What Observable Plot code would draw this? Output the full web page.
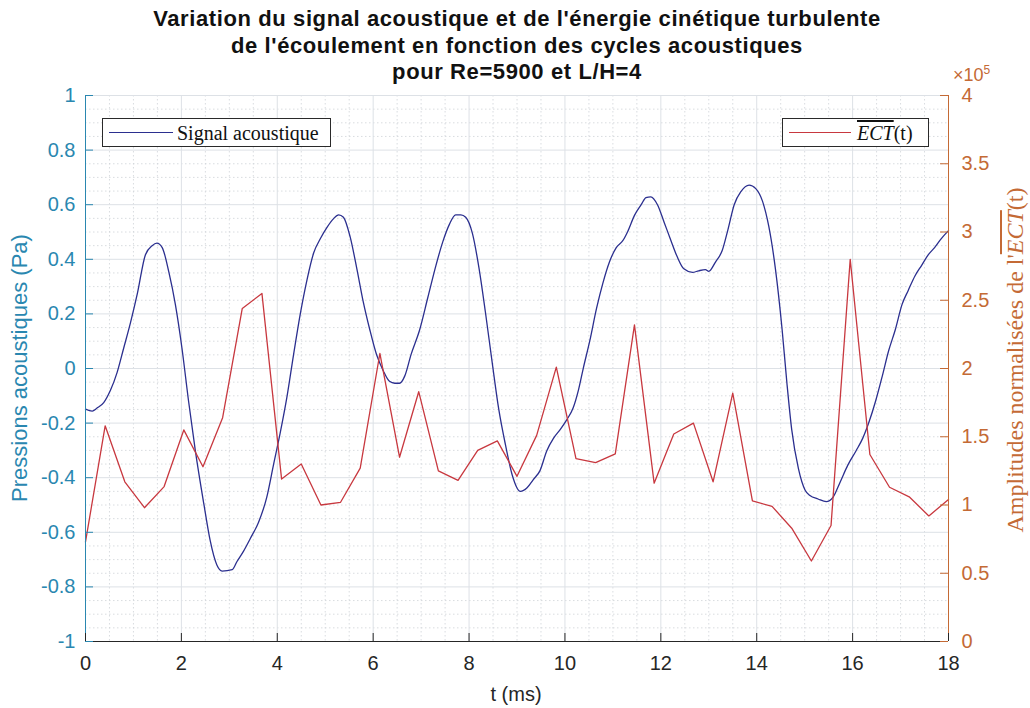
<!DOCTYPE html>
<html><head><meta charset="utf-8">
<script src="https://cdn.jsdelivr.net/npm/d3@7"></script>
<script src="https://cdn.jsdelivr.net/npm/@observablehq/plot@0.6"></script>
<style>
body{margin:0;background:#fff;}
#wrap{position:relative;width:1030px;height:708px;overflow:hidden;font-family:"Liberation Sans",Arial,sans-serif;background:#fff;}
#title{height:85px;text-align:center;font-weight:bold;font-size:22px;letter-spacing:0.6px;line-height:26.5px;padding-top:6px;padding-left:4px;box-sizing:border-box;color:#111;}
.abs{position:absolute;white-space:nowrap;}
.legend{position:absolute;border:1px solid #2a2a2a;background:#fff;box-sizing:border-box;font-family:"Liberation Serif","Times New Roman",serif;font-size:20px;color:#111;}
.legend .ln{position:absolute;height:0;border-top:1.3px solid;}
.legend .tx{position:absolute;top:2px;line-height:24px;}
.ov{text-decoration:overline;font-style:italic;}
</style></head>
<body>
<div id="wrap">
  <div id="title">Variation du signal acoustique et de l'énergie cinétique turbulente<br>de l'écoulement en fonction des cycles acoustiques<br>pour Re=5900 et L/H=4</div>
  <div id="chart"></div>
  <div class="abs" style="left:416px;top:682px;width:200px;text-align:center;font-size:20px;line-height:24px;color:#262626;">t (ms)</div>
  <div class="abs" id="ylab" style="left:-180px;top:355px;width:400px;text-align:center;font-size:22px;line-height:26px;transform:rotate(-90deg);">Pressions acoustiques (Pa)</div>
  <div class="abs" id="y2lab" style="left:795px;top:346px;width:440px;text-align:center;font-family:'Liberation Serif','Times New Roman',serif;font-size:24px;line-height:28px;transform:rotate(-90deg);">Amplitudes normalisées de l'<span class="ov">ECT</span>(t)</div>
  <div class="abs" id="mult" style="left:953px;top:60px;font-size:18px;line-height:20px;">×10<sup style="font-size:12px;vertical-align:7px;">5</sup></div>
  <div class="legend" style="left:102px;top:118px;width:229px;height:29px;">
    <div class="ln" style="left:6px;top:13px;width:64px;border-color:#2b2f8f;"></div>
    <div class="tx" style="left:74px;">Signal acoustique</div>
  </div>
  <div class="legend" style="left:782px;top:118px;width:147px;height:29px;">
    <div class="ln" style="left:6px;top:13px;width:62px;border-color:#c8383f;"></div>
    <div class="tx" style="left:74px;"><span class="ov">ECT</span>(t)</div>
  </div>
</div>
<script>
// ---- data ----
const signalTime = [0,0.14,0.24,0.38,0.52,0.66,0.80,0.94,1.08,1.25,1.39,1.49,1.60,1.74,1.875,2.01,2.15,2.29,2.47,2.60,2.74,2.85,3.06,3.16,3.30,3.44,3.61,3.78,3.92,4.06,4.20,4.34,4.48,4.62,4.76,4.90,5.03,5.17,5.28,5.38,5.52,5.66,5.79,5.93,6.07,6.21,6.34,6.45,6.55,6.66,6.79,6.97,7.14,7.31,7.45,7.59,7.72,7.83,7.93,8.07,8.21,8.34,8.48,8.62,8.76,8.90,9.07,9.21,9.34,9.48,9.62,9.76,9.90,10.03,10.17,10.28,10.38,10.52,10.66,10.79,10.93,11.07,11.21,11.31,11.45,11.59,11.69,11.79,11.93,12.07,12.21,12.34,12.48,12.66,12.79,12.93,13.0,13.14,13.28,13.40,13.53,13.67,13.84,13.98,14.12,14.25,14.39,14.53,14.63,14.73,14.87,15.01,15.11,15.28,15.45,15.59,15.73,15.90,16.07,16.21,16.34,16.48,16.62,16.75,16.89,17.03,17.16,17.30,17.44,17.58,17.71,17.85,18.0];
const signalPressure = [-0.149,-0.156,-0.145,-0.125,-0.08,-0.014,0.077,0.169,0.273,0.417,0.45,0.459,0.443,0.352,0.234,0.077,-0.12,-0.30,-0.498,-0.63,-0.72,-0.742,-0.737,-0.707,-0.668,-0.622,-0.563,-0.472,-0.354,-0.237,-0.106,0.051,0.20,0.325,0.424,0.476,0.515,0.548,0.563,0.554,0.482,0.365,0.247,0.142,0.051,-0.008,-0.047,-0.054,-0.054,-0.027,0.051,0.142,0.26,0.378,0.463,0.528,0.563,0.563,0.554,0.495,0.365,0.208,0.025,-0.15,-0.28,-0.39,-0.45,-0.437,-0.407,-0.374,-0.302,-0.256,-0.224,-0.19,-0.145,-0.08,-0.001,0.103,0.221,0.312,0.391,0.443,0.469,0.502,0.561,0.60,0.626,0.629,0.60,0.535,0.469,0.41,0.365,0.352,0.358,0.362,0.356,0.39,0.432,0.509,0.60,0.648,0.672,0.659,0.613,0.522,0.365,0.142,-0.054,-0.224,-0.367,-0.446,-0.465,-0.478,-0.488,-0.472,-0.42,-0.354,-0.302,-0.256,-0.197,-0.119,-0.027,0.064,0.142,0.234,0.286,0.339,0.378,0.417,0.443,0.476,0.505];
const ectTime = [0,0.41,0.82,1.23,1.64,2.05,2.45,2.86,3.27,3.68,4.09,4.5,4.91,5.32,5.73,6.14,6.55,6.95,7.36,7.77,8.18,8.59,9.0,9.41,9.82,10.23,10.64,11.05,11.45,11.86,12.27,12.68,13.09,13.5,13.91,14.32,14.73,15.14,15.55,15.95,16.36,16.77,17.18,17.59,18.0];
const ectValue = [0.73,1.58,1.17,0.98,1.135,1.55,1.28,1.64,2.44,2.55,1.19,1.30,1.00,1.02,1.27,2.11,1.35,1.83,1.25,1.18,1.40,1.47,1.21,1.51,2.01,1.34,1.31,1.375,2.32,1.16,1.52,1.60,1.17,1.82,1.03,0.99,0.83,0.59,0.85,2.80,1.37,1.13,1.06,0.92,1.04]; // x 10^5
const xTicks = [0,2,4,6,8,10,12,14,16,18];
const yTicks = [-1,-0.8,-0.6,-0.4,-0.2,0,0.2,0.4,0.6,0.8,1];
const y2Ticks = [0,0.5,1,1.5,2,2.5,3,3.5,4];

// ---- styling / layout ----
const TEAL = "#2a87b0", ORANGE = "#c46a35", AXIS = "#262626";
const W = 1030, H = 623, mT = 10, mB = 67, mL = 85, mR = 82;
const plotW = W - mL - mR, plotH = H - mT - mB;
const toLeft = e => e / 2 - 1; // map right axis [0,4] onto left axis [-1,1]

const signal = signalTime.map((t, i) => ({t, p: signalPressure[i]}));
const ect = ectTime.map((t, i) => ({t, e: ectValue[i]}));
const xMinor = d3.range(0, 18.01, 0.5).filter(v => Math.abs(v % 2) > 1e-9);
const yMinor = d3.range(-1, 1.001, 0.05).map(v => +v.toFixed(2)).filter(v => Math.abs(Math.round(v * 5) - v * 5) > 1e-6);
const fmt = v => String(+(+v).toFixed(2));

const chart = Plot.plot({
  width: W, height: H, marginTop: mT, marginBottom: mB, marginLeft: mL, marginRight: mR,
  x: {domain: [0, 18]},
  y: {domain: [-1, 1]},
  style: {fontFamily: "Liberation Sans, Arial, sans-serif", fontSize: "20px", background: "white", overflow: "visible"},
  marks: [
    Plot.ruleY(yMinor, {y: d => d, stroke: "#cfd3d8", strokeWidth: 0.8, strokeDasharray: "1.5,2.5"}),
    Plot.ruleX(xMinor, {x: d => d, stroke: "#cfd3d8", strokeWidth: 0.8, strokeDasharray: "1.5,2.5"}),
    Plot.ruleY(yTicks, {y: d => d, stroke: "#dde1e6", strokeWidth: 1}),
    Plot.ruleX(xTicks, {x: d => d, stroke: "#dde1e6", strokeWidth: 1}),
    Plot.line(signal, {x: "t", y: "p", stroke: "#2b2f8f", strokeWidth: 1.3, curve: "monotone-x"}),
    Plot.line(ect, {x: "t", y: d => toLeft(d.e), stroke: "#c8383f", strokeWidth: 1.3}),
    Plot.ruleY([-1], {y: d => d, stroke: AXIS, strokeWidth: 1}),
    Plot.ruleX([0], {x: d => d, stroke: TEAL, strokeWidth: 1}),
    Plot.ruleX([18], {x: d => d, stroke: ORANGE, strokeWidth: 1}),
    Plot.tickX(xTicks, {x: d => d, stroke: AXIS, insetTop: plotH - 8}),
    Plot.tickY(yTicks, {y: d => d, stroke: TEAL, insetRight: plotW - 8}),
    Plot.tickY(y2Ticks, {y: d => toLeft(d), stroke: ORANGE, insetLeft: plotW - 8}),
    Plot.axisX({ticks: xTicks, tickSize: 0, tickPadding: 14, tickFormat: fmt, color: AXIS, label: null}),
    Plot.axisY({anchor: "left", ticks: yTicks, tickSize: 0, tickPadding: 10, tickFormat: fmt, color: TEAL, label: null}),
    Plot.axisY({anchor: "right", ticks: y2Ticks.map(toLeft), tickSize: 0, tickPadding: 13, tickFormat: p => fmt((p + 1) * 2), color: ORANGE, label: null})
  ]
});
document.getElementById("chart").appendChild(chart);
document.getElementById("ylab").style.color = TEAL;
document.getElementById("y2lab").style.color = ORANGE;
document.getElementById("mult").style.color = ORANGE;
</script>
</body></html>
